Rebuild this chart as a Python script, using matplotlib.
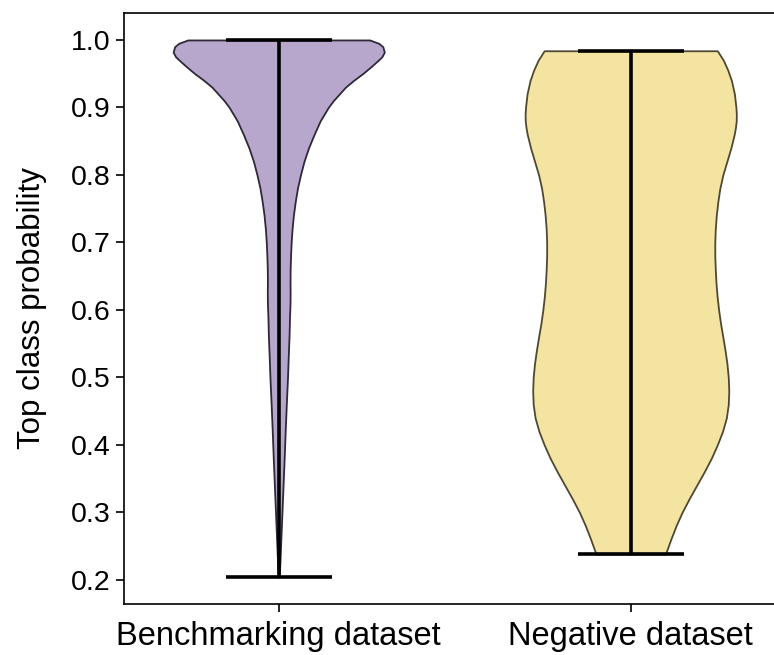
# Violin plot of top class probability for the two datasets

import numpy as np
import matplotlib
matplotlib.use('Agg')
import matplotlib.pyplot as plt

plt.rcParams['font.family'] = ['Liberation Sans', 'DejaVu Sans']

labels = ['Benchmarking dataset', 'Negative dataset']
positions = [1, 2]

# density profiles (probability, half-width in px)
bench_y = [1.000, 0.995, 0.990, 0.982, 0.975, 0.968, 0.960, 0.950, 0.940, 0.930,
           0.920, 0.910, 0.900, 0.880, 0.860, 0.840, 0.820, 0.800, 0.780, 0.760,
           0.740, 0.720, 0.700, 0.680, 0.660, 0.640, 0.625, 0.610, 0.590, 0.560,
           0.530, 0.500, 0.460, 0.420, 0.380, 0.340, 0.300, 0.260, 0.230, 0.204]
bench_w = [90, 99, 103, 104.5, 102, 97, 91, 83, 74, 66,
           60, 54, 49, 41, 35, 29.5, 25, 21.5, 18.5, 16.3,
           14.5, 13.2, 12.3, 11.7, 11.3, 11.2, 11.3, 11.2, 10.7, 10.2,
           9.4, 8.7, 7.5, 6.4, 5.4, 4.3, 3.2, 2.1, 1.3, 0.5]

neg_y = [0.984, 0.970, 0.955, 0.940, 0.920, 0.900, 0.890, 0.880, 0.870, 0.860,
         0.840, 0.820, 0.800, 0.780, 0.760, 0.740, 0.720, 0.700, 0.680, 0.660,
         0.640, 0.620, 0.600, 0.580, 0.560, 0.540, 0.520, 0.500, 0.480, 0.460,
         0.440, 0.420, 0.400, 0.380, 0.360, 0.340, 0.320, 0.300, 0.280, 0.260,
         0.238]
neg_w = [86, 92, 96.5, 100, 103, 104.5, 104.9, 104.8, 104, 102.8,
         99.5, 95.5, 91.5, 88.5, 86.5, 85, 84, 83.5, 83.5, 84,
         84.7, 85.8, 87.3, 89.2, 91.5, 93.7, 95.6, 96.9, 97.4, 96.9,
         95, 91.2, 86, 80, 73, 65.5, 58, 51, 45, 39.8,
         34.5]

face_colors = ['#b8a7cc', '#f3e4a2']
edge_colors = ['#2f2838', '#4f4833']


def make_stats(y, w):
    y = np.array(y)
    w = np.array(w, dtype=float)
    return {'coords': y, 'vals': w, 'mean': np.mean(y), 'median': np.median(y),
            'min': y.min(), 'max': y.max()}


vpstats = [make_stats(bench_y, bench_w), make_stats(neg_y, neg_w)]

fig = plt.figure(figsize=(7.74, 6.55), dpi=100)
ax = fig.add_axes([0.160, 0.078, 0.855, 0.902])

parts = ax.violin(vpstats, positions=positions, widths=0.6, showextrema=True)
for body, fc, ec in zip(parts['bodies'], face_colors, edge_colors):
    body.set_facecolor(fc)
    body.set_edgecolor(ec)
    body.set_alpha(1)
    body.set_linewidth(1.3)
for key in ['cbars', 'cmins', 'cmaxes']:
    parts[key].set_color('black')
    parts[key].set_linewidth(2.6)

ax.set_xlim(0.56, 2.44)
ax.set_xticks(positions)
ax.set_xticklabels(labels, fontsize=23.5)
ax.set_yticks(np.arange(0.2, 1.01, 0.1))
ax.tick_params(axis='y', labelsize=20.5, length=5.5, width=1.2, pad=4)
ax.tick_params(axis='x', length=5.5, width=1.2, pad=7)
ax.set_ylabel('Top class probability', fontsize=22.5, labelpad=17)
for s in ax.spines.values():
    s.set_linewidth(1.2)

fig.savefig('out.png', dpi=100)
